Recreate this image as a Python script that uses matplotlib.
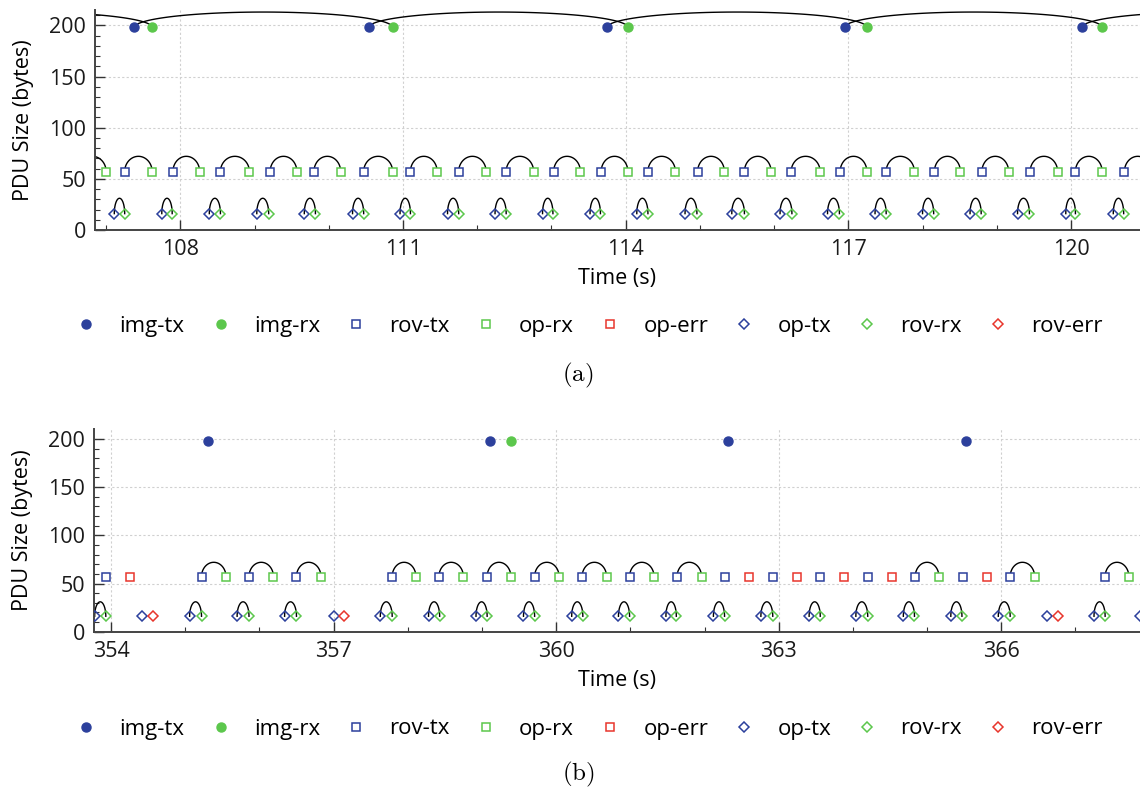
import numpy as np
import matplotlib
matplotlib.use('Agg')
import matplotlib.pyplot as plt
from matplotlib.lines import Line2D

plt.rcParams['font.family'] = ['Open Sans', 'DejaVu Sans']
plt.rcParams['mathtext.fontset'] = 'cm'

# PDU sizes (bytes)
size_img = 198
size_rov = 57
size_op = 16

# (a) event times, s
a_img_tx = [104.15, 107.38, 110.54, 113.75, 116.95, 120.15]
a_img_rx = [107.62, 110.86, 114.03, 117.25, 120.42, 123.62]
a_rov_tx = [106.63, 107.25, 107.90, 108.54, 109.21, 109.80, 110.47, 111.10, 111.75, 112.39, 113.03, 113.67,
            114.30, 114.97, 115.60, 116.23, 116.89, 117.51, 118.16, 118.80, 119.45, 120.06, 120.72]
a_op_rx = [107.00, 107.62, 108.26, 108.93, 109.57, 110.16, 110.86, 111.46, 112.12, 112.76, 113.39, 114.03,
           114.67, 115.33, 115.96, 116.62, 117.25, 117.89, 118.51, 119.16, 119.82, 120.42, 121.08]
a_op_err = []
a_op_tx = [107.11, 107.75, 108.39, 109.03, 109.67, 110.32, 110.96, 111.60, 112.24, 112.88, 113.52,
           114.15, 114.80, 115.43, 116.08, 116.72, 117.36, 118.00, 118.64, 119.28, 119.93, 120.57]
a_rov_rx = [107.25, 107.89, 108.54, 109.19, 109.82, 110.47, 111.10, 111.75, 112.39, 113.02, 113.66,
            114.30, 114.96, 115.60, 116.24, 116.88, 117.51, 118.15, 118.79, 119.44, 120.06, 120.71]
a_rov_err = []

# (b) event times, s
b_img_tx = [355.31, 359.11, 362.32, 365.52]
b_img_rx = [359.39]
b_rov_tx = [353.93, 355.22, 355.86, 356.50, 357.79, 358.42, 359.07, 359.71, 360.35, 360.99, 361.63,
            362.27, 362.92, 363.56, 364.20, 364.84, 365.48, 366.12, 367.40]
b_op_rx = [355.55, 356.19, 356.83, 358.11, 358.75, 359.39, 360.04, 360.68, 361.32, 361.96,
           365.16, 366.45, 367.72]
b_op_err = [354.26, 362.60, 363.24, 363.88, 364.53, 365.81]
b_op_tx = [353.78, 354.42, 355.06, 355.70, 356.34, 357.00, 357.63, 358.28, 358.92, 359.56, 360.21, 360.84,
           361.48, 362.12, 362.76, 363.41, 364.04, 364.68, 365.32, 365.96, 366.61, 367.25, 367.87]
b_rov_rx = [353.93, 355.22, 355.86, 356.50, 357.79, 358.43, 359.07, 359.71, 360.36, 360.99, 361.62,
            362.27, 362.92, 363.56, 364.20, 364.83, 365.47, 366.12, 367.40]
b_rov_err = [354.57, 357.14, 366.76]

BLUE = '#2C409C'
GREEN = '#5CC74C'
RED = '#E8352C'
ARC_H = 15
FS = 15.5


def arc(ax, t0, t1, y):
    th = np.linspace(np.pi, 0, 60)
    xm = (t0 + t1) / 2
    hw = (t1 - t0) / 2
    ax.plot(xm + hw * np.cos(th), y + ARC_H * np.sin(th), color='black', lw=1.0, zorder=2)


def preceding(tx, rx):
    # pair each rx with the last tx sent before it
    out = []
    for r in rx:
        prev = [t for t in tx if t < r]
        if prev:
            out.append((max(prev), r))
    return out


def panel(ax, img_tx, img_rx, rov_tx, op_rx, op_err, op_tx, rov_rx, rov_err, img_links, xlim, ylim, ticks):
    for t0, t1 in img_links:
        arc(ax, t0, t1, size_img)
    for t0, t1 in preceding(rov_tx, op_rx):
        arc(ax, t0, t1, size_rov)
    for t0, t1 in preceding(op_tx, rov_rx):
        arc(ax, t0, t1, size_op)

    ax.plot(img_tx, [size_img] * len(img_tx), 'o', color=BLUE, ms=6.5, ls='none', zorder=3)
    ax.plot(img_rx, [size_img] * len(img_rx), 'o', color=GREEN, ms=6.5, ls='none', zorder=3)
    for t, c in [(rov_tx, BLUE), (op_rx, GREEN), (op_err, RED)]:
        ax.plot(t, [size_rov] * len(t), 's', mfc='white', mec=c, mew=1.1, ms=6, ls='none', zorder=3)
    for t, c in [(op_tx, BLUE), (rov_rx, GREEN), (rov_err, RED)]:
        ax.plot(t, [size_op] * len(t), 'D', mfc='none', mec=c, mew=1.1, ms=4.6, ls='none', zorder=3)

    ax.set_xlim(*xlim)
    ax.set_ylim(*ylim)
    ax.set_xticks(ticks)
    ax.set_xticks(np.arange(np.ceil(xlim[0]), xlim[1], 1.0), minor=True)
    ax.set_yticks([0, 50, 100, 150, 200])
    ax.set_yticks(np.arange(0, ylim[1], 10), minor=True)
    ax.tick_params(which='both', direction='in', labelsize=FS, colors='#333333', labelcolor='#1a1a1a')
    ax.tick_params(which='major', length=7, width=1.0, pad=6.5)
    ax.tick_params(which='minor', length=3.5, width=0.8)
    for s in ['top', 'right']:
        ax.spines[s].set_visible(False)
    for s in ['left', 'bottom']:
        ax.spines[s].set_color('#444444')
        ax.spines[s].set_linewidth(1.4)
    ax.grid(True, which='major', ls=(0, (2, 2)), color='#d0d0d0', lw=0.8)
    ax.set_axisbelow(True)
    ax.set_xlabel('Time (s)', fontsize=FS, labelpad=6)
    ax.set_ylabel('PDU Size (bytes)', fontsize=FS, labelpad=11)


fig = plt.figure(figsize=(11.4, 7.88), dpi=100)
W, H = 1140, 788
ax1 = fig.add_axes([95 / W, 1 - 230 / H, 1 - 95 / W, 220 / H])
ax2 = fig.add_axes([94.3 / W, 1 - 631.7 / H, 1 - 94.3 / W, 202.4 / H])

panel(ax1, a_img_tx, a_img_rx, a_rov_tx, a_op_rx, a_op_err, a_op_tx, a_rov_rx, a_rov_err,
      list(zip(a_img_tx, a_img_rx)), (106.85, 120.93), (0, 215), [108, 111, 114, 117, 120])
panel(ax2, b_img_tx, b_img_rx, b_rov_tx, b_op_rx, b_op_err, b_op_tx, b_rov_rx, b_rov_err,
      [], (353.775, 367.87), (0, 210), [354, 357, 360, 363, 366])

labels = ['img-tx', 'img-rx', 'rov-tx', 'op-rx', 'op-err', 'op-tx', 'rov-rx', 'rov-err']
handles = [
    Line2D([], [], marker='o', ls='none', color=BLUE, ms=6.5),
    Line2D([], [], marker='o', ls='none', color=GREEN, ms=6.5),
    Line2D([], [], marker='s', ls='none', mfc='white', mec=BLUE, mew=1.1, ms=6),
    Line2D([], [], marker='s', ls='none', mfc='white', mec=GREEN, mew=1.1, ms=6),
    Line2D([], [], marker='s', ls='none', mfc='white', mec=RED, mew=1.1, ms=6),
    Line2D([], [], marker='D', ls='none', mfc='none', mec=BLUE, mew=1.1, ms=4.6),
    Line2D([], [], marker='D', ls='none', mfc='none', mec=GREEN, mew=1.1, ms=4.6),
    Line2D([], [], marker='D', ls='none', mfc='none', mec=RED, mew=1.1, ms=4.6),
]
for yc in [326, 729]:
    fig.legend(handles, labels, ncol=8, loc='center', bbox_to_anchor=(589 / W, 1 - yc / H),
               frameon=False, fontsize=16, handlelength=1.0, handletextpad=1.0, columnspacing=1.12)

fig.text(578 / W, 1 - 375 / H, r'$\mathrm{(a)}$', fontsize=18, ha='center', va='center')
fig.text(578 / W, 1 - 774 / H, r'$\mathrm{(b)}$', fontsize=18, ha='center', va='center')

fig.savefig('out.png', dpi=100)
